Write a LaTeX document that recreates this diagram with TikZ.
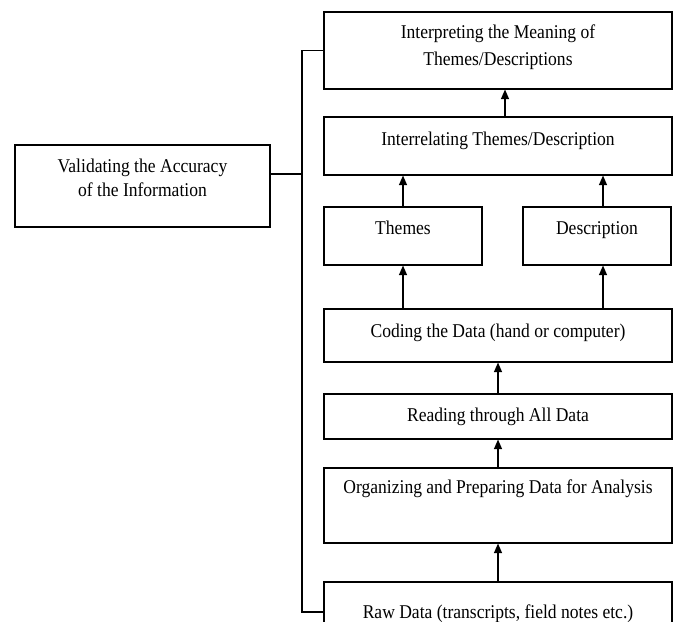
\documentclass[tikz,border=0pt]{standalone}
\usepackage{fontspec}
\setmainfont[FakeStretch=0.9]{Liberation Serif}
\usetikzlibrary{arrows.meta}
\newcommand{\boxtxt}[2]{\raisebox{#1}[0pt][0pt]{\begin{tabular}{@{}c@{}}#2\end{tabular}}}
\begin{document}
\begin{tikzpicture}[x=1pt,y=1pt,
  box/.style={draw, line width=1.1pt, inner sep=0pt, font=\fontsize{19.5}{26}\selectfont},
  arr/.style={line width=1.1pt, -{Triangle[length=9.5pt,width=8pt]}},
  conn/.style={line width=1.1pt}]
\clip (0,0) rectangle (677,-621);
\node[box, minimum width=348pt, minimum height=77pt, font=\fontsize{19.5}{27}\selectfont] (interp) at (498,-50.5) {\boxtxt{-1.5pt}{Interpreting the Meaning of\\Themes/Descriptions}};
\node[box, minimum width=348pt, minimum height=58pt] (interrel) at (498,-146) {\boxtxt{1pt}{Interrelating Themes/Description}};
\node[box, minimum width=158pt, minimum height=58pt] (themes) at (403,-236) {\boxtxt{1.5pt}{Themes}};
\node[box, minimum width=148pt, minimum height=58pt] (desc) at (597,-236) {\boxtxt{1.5pt}{Description}};
\node[box, minimum width=348pt, minimum height=53pt] (coding) at (498,-335.5) {\boxtxt{-2pt}{Coding the Data (hand or computer)}};
\node[box, minimum width=348pt, minimum height=45pt] (reading) at (498,-416.5) {\boxtxt{-5pt}{Reading through All Data}};
\node[box, minimum width=348pt, minimum height=75pt] (org) at (498,-505.5) {\boxtxt{12.5pt}{Organizing and Preparing Data for Analysis}};
\node[box, minimum width=348pt, minimum height=60pt] (raw) at (498,-612) {\boxtxt{-6pt}{Raw Data (transcripts, field notes etc.)}};
\node[box, minimum width=255pt, minimum height=82pt, font=\fontsize{19.5}{24}\selectfont] (valid) at (142.5,-186) {\boxtxt{1pt}{Validating the Accuracy\\of the Information}};
\coordinate (bx) at (302,0);
\draw[conn] (interp.west) -- (interp.west -| bx) -- (raw.west -| bx) -- (raw.west);
\draw[conn] ([yshift=12pt]valid.east) -- ([yshift=12pt]valid.east -| bx);
\draw[arr] ([xshift=7pt]interrel.north) -- ([xshift=7pt]interrel.north |- interp.south);
\draw[arr] (themes.north) -- (themes.north |- interrel.south);
\draw[arr] ([xshift=6pt]desc.north) -- ([xshift=6pt]desc.north |- interrel.south);
\draw[arr] (themes.south |- coding.north) -- (themes.south);
\draw[arr] ([xshift=6pt]desc.south |- coding.north) -- ([xshift=6pt]desc.south);
\draw[arr] (reading.north) -- (coding.south);
\draw[arr] (org.north) -- (reading.south);
\draw[arr] (raw.north) -- (org.south);
\end{tikzpicture}
\end{document}
